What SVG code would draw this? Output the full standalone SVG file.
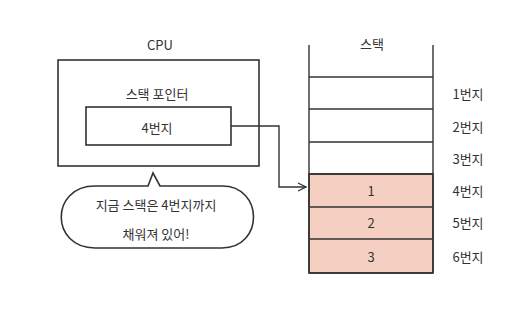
<svg xmlns="http://www.w3.org/2000/svg" width="520" height="322" viewBox="0 0 520 322">
<style>
text{font-family:"Noto Sans CJK KR","Noto Sans",sans-serif;font-size:13px;fill:#333;text-anchor:middle;dominant-baseline:central}
.box{fill:#fff;stroke:#333;stroke-width:1.6}
.line{fill:none;stroke:#333;stroke-width:1.4}
.cell{fill:#f5d0c2;stroke:#333;stroke-width:1.6}
</style>
<defs>
<marker id="arr" viewBox="0 0 10 10" refX="9" refY="5" markerWidth="10" markerHeight="10" markerUnits="userSpaceOnUse" orient="auto">
<path d="M1,1 L9,5 L1,9" fill="none" stroke="#333" stroke-width="1.3"/>
</marker>
</defs>
<rect width="520" height="322" fill="#fff"/>
<g id="cpu">
<text x="160" y="44">CPU</text>
<rect class="box" x="58" y="60" width="201" height="106"/>
<text x="157" y="93" font-size="14">스택 포인터</text>
</g>
<g id="sp">
<rect class="box" x="86" y="107" width="145" height="38"/>
<text x="157" y="127">4번지</text>
</g>
<g id="bubble">
<path class="box" d="M148,186 L153,173 L160,186 L222,186 C264,186 264,248 222,248 L95,248 C50,248 50,186 95,186 Z"/>
<text x="156" y="204" font-size="14">지금 스택은 4번지까지</text>
<text x="156" y="233" font-size="14">채워져 있어!</text>
</g>
<g id="stack">
<text x="372" y="43" font-size="14">스택</text>
<rect class="cell" x="309" y="174" width="124" height="99"/>
<path class="line" d="M309,45 V273 M433,45 V273 M309,77 H433 M309,109 H433 M309,142 H433 M309,174 H433 M309,207 H433 M309,239 H433 M309,273 H433"/>
<text x="371" y="190">1</text>
<text x="371" y="222">2</text>
<text x="371" y="256">3</text>
<text x="468" y="93">1번지</text>
<text x="468" y="126">2번지</text>
<text x="468" y="158">3번지</text>
<text x="468" y="190">4번지</text>
<text x="468" y="222">5번지</text>
<text x="468" y="256">6번지</text>
</g>
<g id="connectors">
<path class="line" d="M231,126 H279 V187 H306" marker-end="url(#arr)"/>
</g>
</svg>
